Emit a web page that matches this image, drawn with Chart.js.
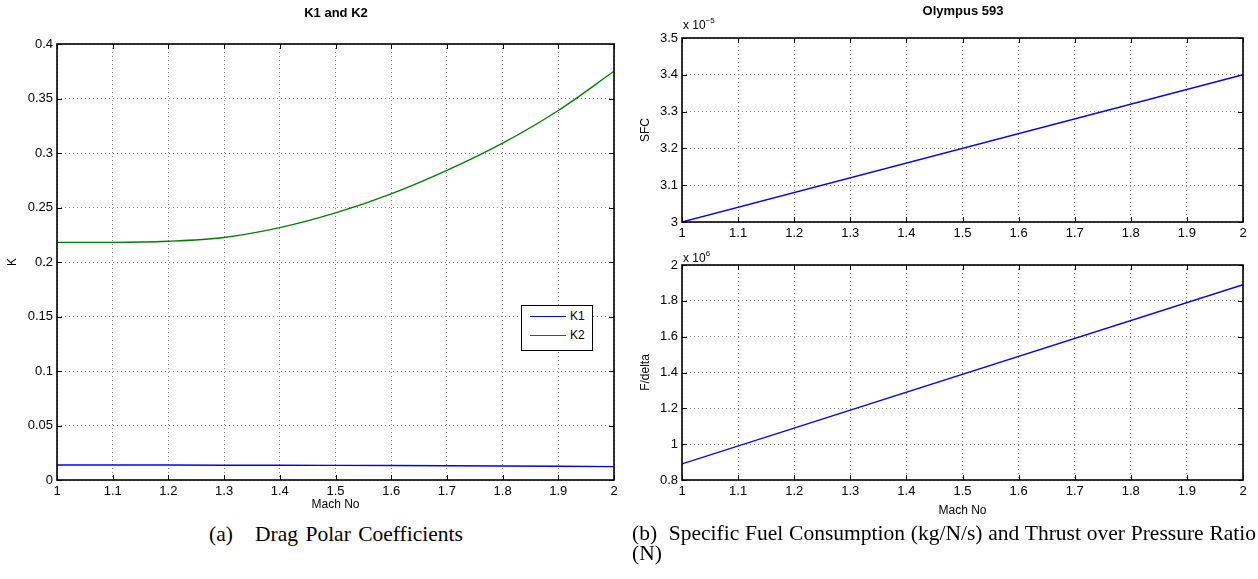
<!DOCTYPE html>
<html>
<head>
<meta charset="utf-8">
<script src="https://cdn.jsdelivr.net/npm/chart.js@4"></script>
<style>
  html, body { margin: 0; padding: 0; background: #fff; }
  body { width: 1258px; height: 579px; position: relative; overflow: hidden; font-family: "Liberation Sans", Arial, sans-serif; }
  canvas { position: absolute; }
  .t { position: absolute; white-space: nowrap; color: #000; }
  .title { font-weight: bold; font-size: 13px; transform: translate(-50%, -50%); }
  .mult { font-size: 12px; }
  .mult sup { font-size: 8px; position: relative; top: -1px; }
  .cap { font-family: "Liberation Serif", "Times New Roman", serif; font-size: 21.5px; }
  .legend { position: absolute; border: 1px solid #000; background: #fff; font-size: 12px; }
  .legend div { position: absolute; }
</style>
</head>
<body>
<div style="position:absolute;left:0;top:0;width:640px;height:514px"><canvas id="c1"></canvas></div>
<div style="position:absolute;left:630px;top:0;width:628px;height:252px"><canvas id="c2"></canvas></div>
<div style="position:absolute;left:630px;top:225px;width:628px;height:295px"><canvas id="c3"></canvas></div>

<div class="t title" style="left:336px;top:12px">K1 and K2</div>
<div class="t title" style="left:963px;top:10px">Olympus 593</div>
<div class="t mult" style="left:683px;top:17px">x 10<sup>−5</sup></div>
<div class="t mult" style="left:683px;top:250px">x 10<sup>6</sup></div>

<div class="legend" style="left:521px;top:305px;width:70px;height:44px">
  <div style="left:8px;top:10px;width:36px;height:0;border-top:1px solid #0000ff"></div>
  <div style="left:48px;top:3px">K1</div>
  <div style="left:8px;top:29px;width:36px;height:0;border-top:1px solid #008000"></div>
  <div style="left:48px;top:22px">K2</div>
</div>

<div class="t cap" style="left:336px;top:534px;transform:translate(-50%,-50%);word-spacing:2px">(a)&nbsp;&nbsp;&nbsp;Drag Polar Coefficients</div>
<div class="t cap" style="left:632px;top:521px;width:624px;line-height:24px;text-align:justify;text-align-last:justify">(b)&nbsp;&nbsp;Specific Fuel Consumption (kg/N/s) and Thrust over Pressure Ratio</div>
<div class="t cap" style="left:632px;top:541px;line-height:24px">(N)</div>

<script>
// ---- data ----
const machK = [1.0, 1.1, 1.2, 1.3, 1.4, 1.5, 1.6, 1.7, 1.8, 1.9, 2.0];
const k1 = [0.0138, 0.0138, 0.0137, 0.0136, 0.0135, 0.0134, 0.0133, 0.0131, 0.0129, 0.0126, 0.0123];
const k2 = [0.218, 0.218, 0.219, 0.2225, 0.2315, 0.245, 0.2625, 0.284, 0.309, 0.339, 0.375];
const machEngine = [1.0, 2.0];
const sfcE5 = [3.0, 3.4];          // SFC in units of 1e-5
const fDeltaE6 = [0.89, 1.89];     // F/delta in units of 1e6
const kTicks = [0, 0.05, 0.1, 0.15, 0.2, 0.25, 0.3, 0.35, 0.4];
const sfcTicks = [3, 3.1, 3.2, 3.3, 3.4, 3.5];
const fDeltaTicks = [0.8, 1, 1.2, 1.4, 1.6, 1.8, 2];
const machTicks = [1, 1.1, 1.2, 1.3, 1.4, 1.5, 1.6, 1.7, 1.8, 1.9, 2];

const pts = (xs, ys) => xs.map((x, i) => ({ x: x, y: ys[i] }));
const fmt = v => String(+(+v).toFixed(3));
const TICKFONT = { family: "'Liberation Sans', Arial, sans-serif", size: 13 };
const LABELFONT = { family: "'Liberation Sans', Arial, sans-serif", size: 12 };

const matlabBox = {
  id: 'matlabBox',
  afterDatasetsDraw(chart) {
    const { ctx, chartArea: a, scales } = chart;
    const L = 5;
    ctx.save();
    ctx.strokeStyle = '#000';
    ctx.lineWidth = 1;
    ctx.beginPath();
    scales.x.ticks.forEach(t => {
      const p = Math.round(scales.x.getPixelForValue(t.value)) + 0.5;
      ctx.moveTo(p, a.bottom); ctx.lineTo(p, a.bottom - L);
      ctx.moveTo(p, a.top); ctx.lineTo(p, a.top + L);
    });
    scales.y.ticks.forEach(t => {
      const p = Math.round(scales.y.getPixelForValue(t.value)) + 0.5;
      ctx.moveTo(a.left, p); ctx.lineTo(a.left + L, p);
      ctx.moveTo(a.right, p); ctx.lineTo(a.right - L, p);
    });
    ctx.stroke();
    ctx.lineWidth = 1.6;
    ctx.strokeRect(a.left, a.top, a.right - a.left, a.bottom - a.top);
    ctx.restore();
  }
};

function makeChart(id, datasets, o) {
  return new Chart(document.getElementById(id), {
    type: 'line',
    data: { datasets: datasets },
    options: {
      responsive: true,
      maintainAspectRatio: false,
      animation: false,
      events: [],
      layout: { padding: { left: 0, right: o.padRight, top: o.padTop, bottom: 0 } },
      plugins: { legend: { display: false }, tooltip: { enabled: false }, title: { display: false } },
      elements: { point: { radius: 0 }, line: { borderWidth: 1.4 } },
      scales: {
        x: {
          type: 'linear', min: 1, max: 2,
          afterFit: s => { s.height = o.xH; },
          afterBuildTicks: s => { s.ticks = machTicks.map(v => ({ value: v })); },
          ticks: { font: TICKFONT, color: '#000', padding: 4, maxRotation: 0, autoSkip: false, callback: fmt },
          grid: { color: '#888', lineWidth: 1, drawTicks: false, borderDash: [1, 3] },
          border: { display: false, dash: [1, 3] },
          title: o.xTitle ? { display: true, text: o.xTitle, font: LABELFONT, color: '#000', padding: { top: 0, bottom: 2 } } : { display: false }
        },
        y: {
          type: 'linear', min: o.yMin, max: o.yMax,
          afterFit: s => { s.width = o.yW; },
          afterBuildTicks: s => { s.ticks = o.yTicks.map(v => ({ value: v })); },
          ticks: { font: TICKFONT, color: '#000', padding: 4, autoSkip: false, callback: fmt },
          grid: { color: '#888', lineWidth: 1, drawTicks: false, borderDash: [1, 3] },
          border: { display: false, dash: [1, 3] },
          title: { display: true, text: o.yTitle, font: LABELFONT, color: '#000', padding: { top: o.yTitlePad, bottom: 0 } }
        }
      }
    },
    plugins: [matlabBox]
  });
}

makeChart('c1', [
  { label: 'K1', data: pts(machK, k1), borderColor: '#0000ff', fill: false },
  { label: 'K2', data: pts(machK, k2), borderColor: '#008000', fill: false, cubicInterpolationMode: 'monotone' }
], { padRight: 26, padTop: 44, xH: 34, yW: 57, yMin: 0, yMax: 0.4, yTicks: kTicks, yTitle: 'K', yTitlePad: 5, xTitle: 'Mach No' });

makeChart('c2', [
  { label: 'SFC', data: pts(machEngine, sfcE5), borderColor: '#0000ff', fill: false }
], { padRight: 15, padTop: 38, xH: 30, yW: 52, yMin: 3, yMax: 3.5, yTicks: sfcTicks, yTitle: 'SFC', yTitlePad: 8, xTitle: null });

makeChart('c3', [
  { label: 'F/delta', data: pts(machEngine, fDeltaE6), borderColor: '#0000ff', fill: false }
], { padRight: 15, padTop: 40, xH: 40, yW: 52, yMin: 0.8, yMax: 2, yTicks: fDeltaTicks, yTitle: 'F/delta', yTitlePad: 8, xTitle: 'Mach No' });
</script>
</body>
</html>
